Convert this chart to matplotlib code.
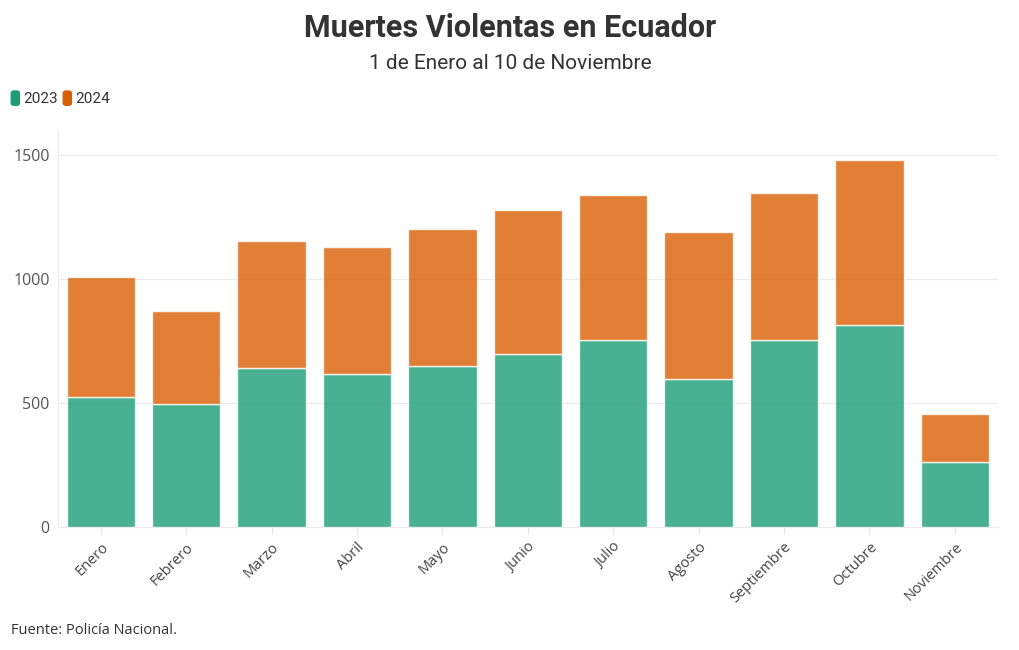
import numpy as np
import matplotlib.pyplot as plt
from matplotlib.patches import FancyBboxPatch

meses = ["Enero", "Febrero", "Marzo", "Abril", "Mayo", "Junio", "Julio",
         "Agosto", "Septiembre", "Octubre", "Noviembre"]
muertes_2023 = [524, 496, 641, 617, 649, 698, 754, 597, 754, 814, 262]
totales = [1008, 869, 1153, 1129, 1202, 1278, 1340, 1189, 1347, 1480, 456]
muertes_2024 = [t - a for t, a in zip(totales, muertes_2023)]

verde = "#1b9e77"
naranja = "#d95f02"

plt.rcParams['font.family'] = ['Open Sans', 'DejaVu Sans']

fig = plt.figure(figsize=(10.2, 6.5), dpi=100)
ax = fig.add_axes([0.057, 0.189, 0.921, 0.611])

x = np.arange(len(meses))
ax.bar(x, muertes_2023, width=0.8, color=verde, alpha=0.8, edgecolor="white", linewidth=1, zorder=3)
ax.bar(x, muertes_2024, width=0.8, bottom=muertes_2023, color=naranja, alpha=0.8,
       edgecolor="white", linewidth=1, zorder=3)

ax.set_xlim(-0.5, 10.5)
ax.set_ylim(0, 1600)
ax.set_yticks([0, 500, 1000, 1500])
ax.set_xticks(x)
ax.set_xticklabels(meses, rotation=45, ha="right", rotation_mode="anchor", fontsize=10.5, color="#444444")
ax.tick_params(axis="y", length=0, labelsize=11.5, labelcolor="#555555", pad=6)
ax.tick_params(axis="x", length=5, color="#e6e6e6", pad=4)
ax.grid(axis="y", color="#ebebeb", linewidth=0.8, zorder=0)
for s in ["top", "right"]:
    ax.spines[s].set_visible(False)
ax.spines["left"].set_color("#ebebeb")
ax.spines["bottom"].set_color("#ebebeb")

fig.text(0.5, 0.957, "Muertes Violentas en Ecuador", ha="center", va="center",
         fontsize=22, fontweight="bold", color="#333333", family=["Roboto", "DejaVu Sans"])
fig.text(0.5, 0.903, "1 de Enero al 10 de Noviembre", ha="center", va="center",
         fontsize=15, color="#333333", family=["Roboto", "DejaVu Sans"])

# leyenda
for px, col, lab in [(0.011, verde, "2023"), (0.062, naranja, "2024")]:
    fig.patches.append(FancyBboxPatch((px, 0.838), 0.008, 0.022, boxstyle="round,pad=0,rounding_size=0.003",
                                      transform=fig.transFigure, color=col))
    fig.text(px + 0.0115, 0.848, lab, ha="left", va="center", fontsize=11, color="#333333",
             family=["Roboto", "DejaVu Sans"])

fig.text(0.011, 0.03, "Fuente: Policía Nacional.", ha="left", va="center", fontsize=10.5, color="#333333")

fig.savefig("out.png", dpi=100, facecolor="white")
